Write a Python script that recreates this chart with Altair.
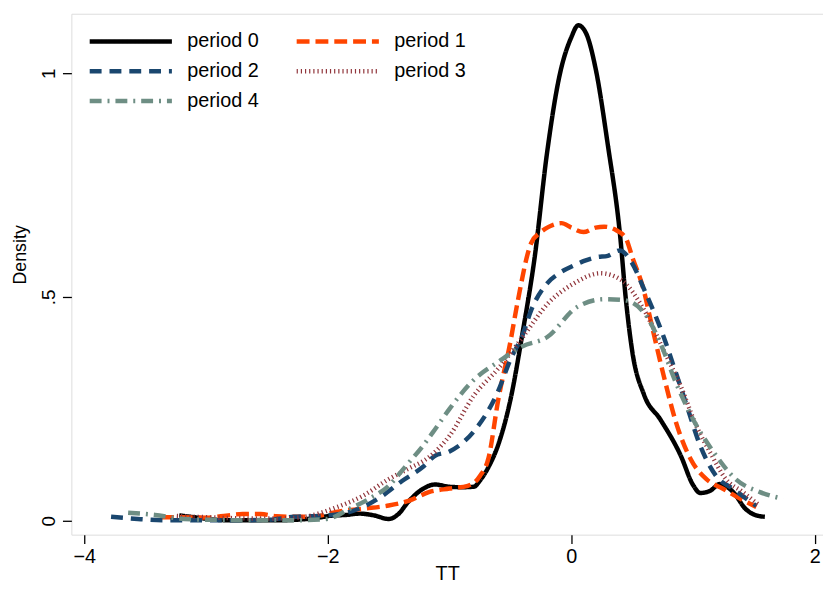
import altair as alt
import pandas as pd

periods = ["period 0", "period 1", "period 2", "period 3", "period 4"]
colors = ["#000000", "#ff4500", "#1a476f", "#90353b", "#6e8e84"]
dashes = [[1, 0], [13, 6], [12, 8], [1.2, 3], [12, 6, 2, 6]]
widths = [4.5, 4.5, 3, 1.2, 3]

p0_x = [-3.22, -3.1, -2.95, -2.8, -2.6, -2.4, -2.28, -2.1, -1.95, -1.85, -1.74, -1.62, -1.5, -1.42, -1.34,
        -1.22, -1.12, -1.0, -0.9, -0.8, -0.75, -0.68, -0.6, -0.5, -0.4, -0.3, -0.2, -0.1, 0.0, 0.057, 0.12,
        0.2, 0.3, 0.4, 0.45, 0.5, 0.6, 0.73, 0.9, 1.0, 1.06, 1.14, 1.22, 1.33, 1.43, 1.52, 1.59]
p0_y = [0.012, 0.008, 0.003, 0.001, 0.001, 0.001, 0.002, 0.006, 0.012, 0.013, 0.016, 0.012, 0.004, 0.015, 0.042,
        0.071, 0.081, 0.076, 0.075, 0.076, 0.09, 0.12, 0.17, 0.27, 0.42, 0.59, 0.82, 0.99, 1.08, 1.107, 1.09,
        1.01, 0.84, 0.64, 0.49, 0.38, 0.28, 0.227, 0.145, 0.08, 0.062, 0.067, 0.082, 0.064, 0.027, 0.012, 0.009]

p1_x = [-3.37, -3.2, -3.0, -2.88, -2.7, -2.55, -2.42, -2.25, -2.1, -1.93, -1.71, -1.5, -1.33, -1.17, -1.0,
        -0.85, -0.75, -0.68, -0.6, -0.5, -0.44, -0.33, -0.25, -0.19, -0.08, 0.0, 0.1, 0.2, 0.27, 0.37, 0.45,
        0.5, 0.6, 0.65, 0.76, 0.86, 0.98, 1.11, 1.25, 1.39, 1.52]
p1_y = [0.008, 0.008, 0.007, 0.010, 0.015, 0.015, 0.010, 0.009, 0.010, 0.02, 0.027, 0.034, 0.045, 0.064, 0.072,
        0.078, 0.10, 0.14, 0.27, 0.40, 0.49, 0.62, 0.645, 0.656, 0.665, 0.655, 0.645, 0.655, 0.657, 0.649, 0.63,
        0.59, 0.51, 0.45, 0.323, 0.22, 0.138, 0.093, 0.071, 0.049, 0.031]

p2_x = [-3.78, -3.56, -3.32, -3.1, -2.8, -2.5, -2.28, -2.07, -1.88, -1.71, -1.55, -1.39, -1.22, -1.12, -1.0,
        -0.8, -0.6, -0.5, -0.4, -0.33, -0.2, -0.1, 0.02, 0.1, 0.21, 0.3, 0.4, 0.49, 0.6, 0.76, 0.86, 0.95,
        1.06, 1.19, 1.33, 1.52]
p2_y = [0.009, 0.004, 0.001, 0.001, 0.001, 0.002, 0.009, 0.011, 0.016, 0.031, 0.056, 0.089, 0.12, 0.145, 0.155,
        0.20, 0.29, 0.36, 0.415, 0.47, 0.53, 0.553, 0.57, 0.58, 0.589, 0.592, 0.604, 0.58, 0.516, 0.41, 0.33, 0.256,
        0.167, 0.10, 0.071, 0.033]

p3_x = [-3.24, -3.0, -2.8, -2.5, -2.3, -2.15, -1.93, -1.71, -1.5, -1.34, -1.17, -1.0, -0.8, -0.6, -0.4, -0.19,
        0.02, 0.24, 0.41, 0.6, 0.76, 0.9, 1.03, 1.14, 1.27, 1.41, 1.55]
p3_y = [0.011, 0.008, 0.006, 0.005, 0.006, 0.011, 0.03, 0.056, 0.093, 0.116, 0.142, 0.19, 0.28, 0.34, 0.41, 0.486,
        0.53, 0.553, 0.538, 0.47, 0.38, 0.30, 0.21, 0.153, 0.093, 0.064, 0.033]

p4_x = [-3.64, -3.42, -3.18, -2.9, -2.6, -2.3, -2.01, -1.82, -1.66, -1.5, -1.36, -1.22, -1.12, -1.0, -0.8, -0.6,
        -0.4, -0.2, 0.05, 0.27, 0.43, 0.6, 0.73, 0.86, 1.0, 1.17, 1.35, 1.55, 1.74]
p4_y = [0.018, 0.013, 0.004, 0.002, 0.001, 0.001, 0.004, 0.027, 0.049, 0.078, 0.122, 0.167, 0.204, 0.25, 0.315,
        0.355, 0.39, 0.41, 0.478, 0.495, 0.493, 0.464, 0.398, 0.308, 0.227, 0.153, 0.093, 0.064, 0.049]

x_ticks = [-4, -2, 0, 2]
y_ticks = [0, 0.5, 1]

series = [(p0_x, p0_y), (p1_x, p1_y), (p2_x, p2_y), (p3_x, p3_y), (p4_x, p4_y)]
rows = []
for name, (xs, ys) in zip(periods, series):
    for a, b in zip(xs, ys):
        rows.append({"period": name, "TT": a, "Density": b})
df = pd.DataFrame(rows)

FONT = "Liberation Sans"

chart = alt.Chart(df).mark_line(interpolate="monotone", strokeCap="butt").encode(
    x=alt.X("TT:Q", scale=alt.Scale(domain=[-4.106, 2.0675], nice=False, zero=False),
            axis=alt.Axis(values=x_ticks, title="TT", grid=False, domain=False,
                          tickSize=9, tickWidth=1.3, tickColor="black",
                          labelExpr="datum.value < 0 ? '\u2212' + abs(datum.value) : datum.label",
                          labelFont=FONT, labelFontSize=20, labelColor="black",
                          labelBaseline="alphabetic", labelPadding=19,
                          titleFont=FONT, titleFontSize=20, titleFontWeight="normal", titleColor="black",
                          titleBaseline="alphabetic", titleY=45)),
    y=alt.Y("Density:Q", scale=alt.Scale(domain=[-0.031, 1.1327], nice=False, zero=False),
            axis=alt.Axis(values=y_ticks, title="Density", grid=False, domain=False,
                          tickSize=9, tickWidth=1.3, tickColor="black",
                          labelExpr="datum.value == 0.5 ? '.5' : toString(datum.value)",
                          labelAngle=270, labelAlign="center", labelBaseline="alphabetic", labelPadding=8,
                          labelFont=FONT, labelFontSize=19, labelColor="black",
                          titleFont=FONT, titleFontSize=18, titleFontWeight="normal", titleColor="black",
                          titleAngle=270, titleAlign="center", titleBaseline="alphabetic",
                          titleX=-46, titleY=243)),
    color=alt.Color("period:N", scale=alt.Scale(domain=periods, range=colors),
                    legend=alt.Legend(orient="none", legendX=16, legendY=17, columns=2, direction="horizontal",
                                      title=None,
                                      symbolType="stroke", symbolSize=6889, clipHeight=22,
                                      rowPadding=8, columnPadding=35, labelOffset=13, padding=0,
                                      labelFont=FONT, labelFontSize=20, labelColor="black")),
    strokeDash=alt.StrokeDash("period:N", scale=alt.Scale(domain=periods, range=dashes)),
    strokeWidth=alt.StrokeWidth("period:N", scale=alt.Scale(domain=periods, range=widths)),
).properties(
    width=759, height=526,
    autosize=alt.AutoSizeParams(type="none"),
    padding={"left": 64, "top": 3, "right": 0, "bottom": 46},
).configure_view(
    stroke="black", strokeWidth=1.6
).configure(background="white")

chart.save("out.html", embed_options={"renderer": "svg", "actions": False})
